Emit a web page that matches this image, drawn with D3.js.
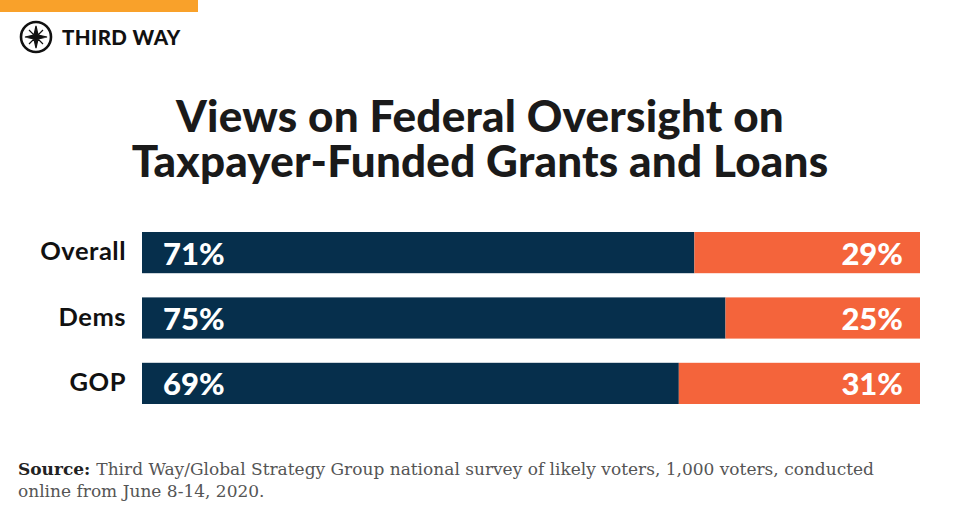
<!DOCTYPE html>
<html>
<head>
<meta charset="utf-8">
<script src="https://cdn.jsdelivr.net/npm/d3@7"></script>
<style>
  body { margin: 0; background: #fff; }
  svg { display: block; }
</style>
</head>
<body>
<div id="chart"></div>
<script>
var categories = ["Overall", "Dems", "GOP"];
var yesValues = [71, 75, 69];
var noValues = [29, 25, 31];
var titleLines = ["Views on Federal Oversight on", "Taxpayer-Funded Grants and Loans"];
var sourceLines = ["Third Way/Global Strategy Group national survey of likely voters, 1,000 voters, conducted",
                   "online from June 8-14, 2020."];

var width = 960, height = 516;
var navy = "#062f4c", orange = "#f4643b";

var svg = d3.select("#chart").append("svg")
  .attr("width", width)
  .attr("height", height)
  .attr("viewBox", "0 0 " + width + " " + height);

// top accent + logo
svg.append("rect").attr("x", 0).attr("y", 0).attr("width", 198).attr("height", 12).attr("fill", "#f9a12a");

var logo = svg.append("g").attr("transform", "translate(36,37)");
logo.append("circle").attr("r", 15).attr("fill", "none").attr("stroke", "#111").attr("stroke-width", 2.6);
logo.append("path")
  .attr("d", "M0,-11 L2,-2 L11,0 L2,2 L0,11 L-2,2 L-11,0 L-2,-2 Z M-7,-7 L0,0 M7,-7 L0,0 M-7,7 L0,0 M7,7 L0,0")
  .attr("fill", "#111").attr("stroke", "#111").attr("stroke-width", 1.2);
svg.append("text")
  .attr("x", 62).attr("y", 44.5)
  .attr("font-family", "Lato, sans-serif").attr("font-weight", 900)
  .attr("font-size", 20.5).attr("letter-spacing", 0.4).attr("fill", "#111")
  .text("THIRD WAY");

// title
svg.append("g").selectAll("text")
  .data(titleLines)
  .join("text")
  .attr("x", 480)
  .attr("y", function(d, i) { return 132 + i * 45; })
  .attr("text-anchor", "middle")
  .attr("font-family", "Lato, sans-serif")
  .attr("font-weight", 900)
  .attr("font-size", 44)
  .attr("letter-spacing", 0.2)
  .attr("fill", "#1a1a1a")
  .text(function(d) { return d; });

// bars
var x = d3.scaleLinear().domain([0, 100]).range([142, 920]);
var y = d3.scaleBand().domain(categories).range([232, 404]).paddingInner(0.37);

var rows = svg.append("g").selectAll("g")
  .data(categories)
  .join("g")
  .attr("transform", function(d) { return "translate(0," + y(d) + ")"; });

rows.append("rect")
  .attr("x", x(0))
  .attr("width", function(d, i) { return x(yesValues[i]) - x(0); })
  .attr("height", y.bandwidth())
  .attr("fill", navy);

rows.append("rect")
  .attr("x", function(d, i) { return x(yesValues[i]); })
  .attr("width", function(d, i) { return x(yesValues[i] + noValues[i]) - x(yesValues[i]); })
  .attr("height", y.bandwidth())
  .attr("fill", orange);

rows.append("text")
  .attr("x", x(0) + 21)
  .attr("y", y.bandwidth() / 2 + 12)
  .attr("font-family", "Lato, sans-serif").attr("font-weight", 900)
  .attr("font-size", 31).attr("fill", "#fff")
  .text(function(d, i) { return yesValues[i] + "%"; });

rows.append("text")
  .attr("x", x(100) - 17)
  .attr("y", y.bandwidth() / 2 + 12)
  .attr("text-anchor", "end")
  .attr("font-family", "Lato, sans-serif").attr("font-weight", 900)
  .attr("font-size", 31).attr("fill", "#fff")
  .text(function(d, i) { return noValues[i] + "%"; });

// category axis
var yAxis = d3.axisLeft(y).tickSize(0).tickPadding(16);
var ax = svg.append("g")
  .attr("transform", "translate(" + x(0) + ",0)")
  .call(yAxis);
ax.select(".domain").remove();
ax.selectAll("text")
  .attr("font-family", "Lato, sans-serif").attr("font-weight", 700)
  .attr("font-size", 25.5).attr("letter-spacing", 0.5).attr("fill", "#111")
  .attr("dy", "0.3em");

// source note
var src = svg.append("text")
  .attr("font-family", "'DejaVu Serif', serif")
  .attr("font-size", 17).attr("fill", "#555");
src.append("tspan").attr("x", 18).attr("y", 475)
  .attr("font-weight", 700).attr("fill", "#222").text("Source: ");
src.append("tspan").text(sourceLines[0]);
src.append("tspan").attr("x", 18).attr("y", 497).text(sourceLines[1]);
</script>
</body>
</html>
